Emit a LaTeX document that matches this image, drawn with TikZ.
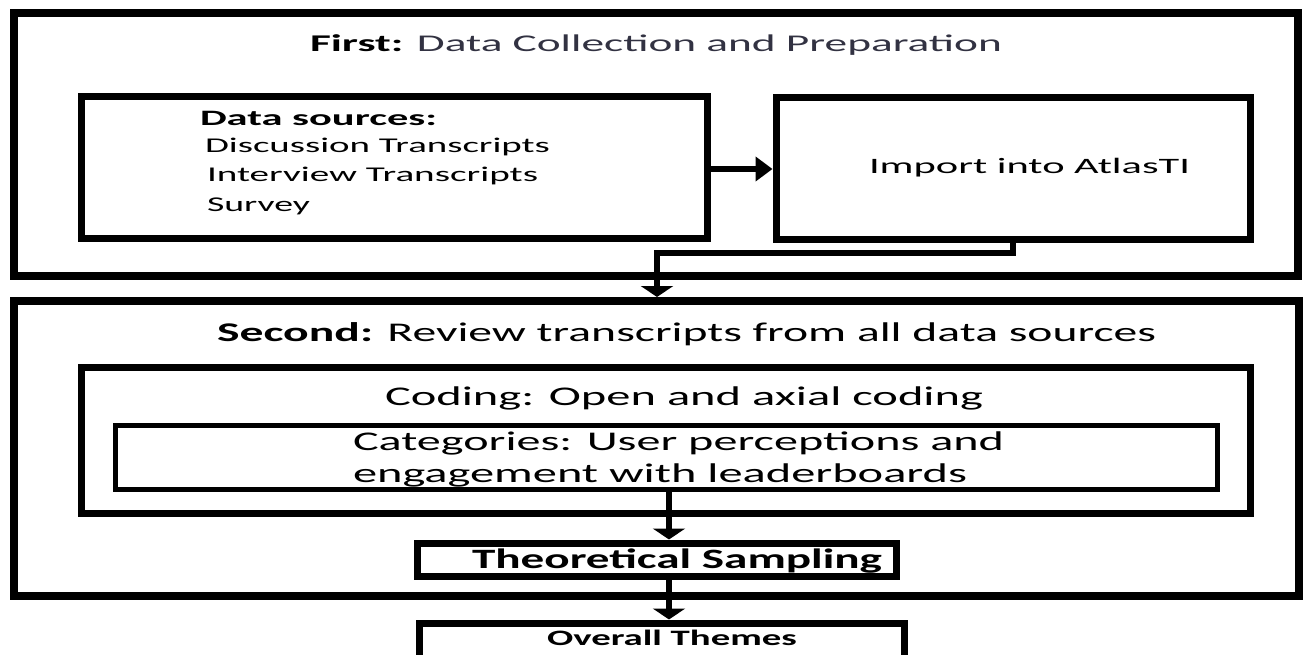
\documentclass[tikz,border=0pt]{standalone}
\usepackage{fontspec}
\setmainfont{Carlito}
\usetikzlibrary{arrows.meta}
% set a text line to a fixed width, keeping its natural height
\newcommand\fitw[2]{\resizebox{#1pt}{\height}{#2}}
\definecolor{titlegray}{RGB}{50,50,66}
\begin{document}
\begin{tikzpicture}[x=1pt,y=-1pt,
  stage/.style={draw,line width=8pt,inner sep=0pt,rectangle},
  panel/.style={draw,line width=7pt,inner sep=0pt,rectangle},
  subpanel/.style={draw,line width=5pt,inner sep=0pt,rectangle},
  txt/.style={inner sep=0pt,outer sep=0pt,anchor=base west},
  link/.style={line width=6pt},
  sidehead/.style={-{Triangle[width=24pt,length=17pt]}},
  downhead/.style={-{Triangle[width=32pt,length=11pt]}}]
\useasboundingbox (0,0) rectangle (1306,655);
\fill[white] (0,0) rectangle (1306,655);
\clip (0,0) rectangle (1306,655);

% first stage
\node[stage,minimum width=1284pt,minimum height=263pt] (s1) at (656,144.5) {};
\node[panel,minimum width=626pt,minimum height=141pt] (src) at (394,167.5) {};
\node[panel,minimum width=474pt,minimum height=141pt] (imp) at (1013,168.5) {};

\node[txt] (t1) at (310,52) {\fitw{692}{\fontsize{24}{24}\selectfont\textbf{First:} \textcolor{titlegray}{Data Collection and Preparation}}};
\node[txt] (ds) at (200,126) {\fitw{237}{\fontsize{22}{22}\selectfont\textbf{Data sources:}}};
\node[txt] (d1) at (205,153) {\fitw{345}{\fontsize{21}{21}\selectfont Discussion Transcripts}};
\node[txt] (d2) at (207,182) {\fitw{331}{\fontsize{21}{21}\selectfont Interview Transcripts}};
\node[txt] (d3) at (207,212) {\fitw{103}{\fontsize{21}{21}\selectfont Survey}};
\node[txt] (it) at (869,174) {\fitw{321}{\fontsize{22}{22}\selectfont Import into AtlasTI}};

% second stage
\node[stage,minimum width=1285pt,minimum height=295pt] (s2) at (656.5,448.5) {};
\node[panel,minimum width=1169pt,minimum height=146pt] (cod) at (665.5,440) {};
\node[subpanel,minimum width=1102pt,minimum height=64pt] (cat) at (666,457) {};
\node[panel,minimum width=479pt,minimum height=33pt] (ts) at (656.5,559.5) {};
\node[panel,minimum width=485pt,minimum height=44pt] (ot) at (661.5,645) {};

\node[txt] (t2) at (217,341) {\fitw{939}{\fontsize{27}{27}\selectfont\textbf{Second:} Review transcripts from all data sources}};
\node[txt] (c0) at (385,405) {\fitw{598}{\fontsize{27}{27}\selectfont Coding: Open and axial coding}};
\node[txt] (c1) at (353,450) {\fitw{651}{\fontsize{27}{27}\selectfont Categories: User perceptions and}};
\node[txt] (c2) at (353,482) {\fitw{614}{\fontsize{27}{27}\selectfont engagement with leaderboards}};
\node[txt] (tt) at (472,568) {\fitw{410}{\fontsize{28}{28}\selectfont\textbf{Theoretical Sampling}}};
\node[txt] (ov) at (547,645) {\fitw{250}{\fontsize{22}{22}\selectfont\textbf{Overall Themes}}};

% connectors
\coordinate (jr) at (1013,253);
\coordinate (jl) at (657,253);
\coordinate (vx) at (669,0);

\draw[link,sidehead] (src.east |- 0,169) -- (imp.west |- 0,169);
\draw[link,line join=miter,downhead] (imp.south -| jr) -- (jr) -- (jl) -- (jl |- s2.north);
\draw[link,downhead] (cat.south -| vx) -- (ts.north -| vx);
\draw[link,downhead] (ts.south -| vx) -- (ot.north -| vx);
\end{tikzpicture}
\end{document}
